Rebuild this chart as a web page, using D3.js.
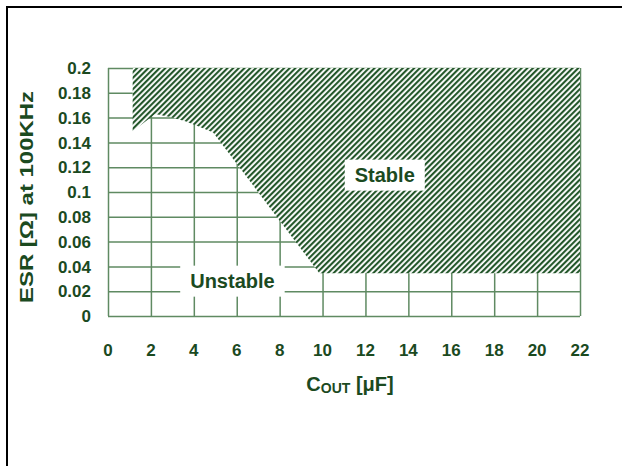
<!DOCTYPE html>
<html>
<head>
<meta charset="utf-8">
<script src="https://cdn.jsdelivr.net/npm/d3@7"></script>
<style>
  html, body { margin: 0; padding: 0; background: #fff; }
  svg { display: block; font-family: "Liberation Sans", Arial, sans-serif; }
</style>
</head>
<body>
<svg id="chart" width="622" height="466"></svg>
<script>
// ---- data ----
const xTickValues = [0, 2, 4, 6, 8, 10, 12, 14, 16, 18, 20, 22];
const xTickLabels = ["0", "2", "4", "6", "8", "10", "12", "14", "16", "18", "20", "22"];
const yTickValues = [0, 0.02, 0.04, 0.06, 0.08, 0.1, 0.12, 0.14, 0.16, 0.18, 0.2];
const yTickLabels = ["0", "0.02", "0.04", "0.06", "0.08", "0.1", "0.12", "0.14", "0.16", "0.18", "0.2"];
// boundary of the "Stable" region (Cout in µF, ESR in Ω)
const stableCout = [1.15, 1.15, 2.2, 2.9, 3.6, 4.2, 4.9, 9.85, 22, 22];
const stableEsr  = [0.2, 0.149, 0.163, 0.1605, 0.157, 0.153, 0.148, 0.0345, 0.0345, 0.2];
const regionLabels = ["Stable", "Unstable"];
const regionLabelCout = [12.9, 5.8];
const regionLabelEsr  = [0.114, 0.0285];
const yTitle = "ESR [Ω] at 100KHz";

// ---- setup ----
const svg = d3.select("#chart");
const textColor = "#1b4a1f";
const gridColor = "#5f8a62";
const hatchColor = "#24572b";

const x = d3.scaleLinear().domain([0, 22]).range([108, 580]);
const y = d3.scaleLinear().domain([0, 0.2]).range([316, 68]);

// frame lines
svg.append("line").attr("x1", 6).attr("x2", 622).attr("y1", 7).attr("y2", 7)
  .attr("stroke", "#000").attr("stroke-width", 2);
svg.append("line").attr("x1", 7).attr("x2", 7).attr("y1", 6).attr("y2", 466)
  .attr("stroke", "#000").attr("stroke-width", 2);

// hatch pattern
const defs = svg.append("defs");
const pat = defs.append("pattern").attr("id", "hatch")
  .attr("patternUnits", "userSpaceOnUse").attr("width", 4).attr("height", 4)
  .attr("patternTransform", "rotate(45)");
pat.append("rect").attr("width", 4).attr("height", 4).attr("fill", "#fff");
pat.append("rect").attr("x", 0).attr("y", 0).attr("width", 2.1).attr("height", 4).attr("fill", hatchColor);

// grid
const gGrid = svg.append("g");
gGrid.append("g").attr("transform", `translate(0,${y(0)})`)
  .call(d3.axisBottom(x).tickValues(xTickValues).tickSize(-(y(0) - y(0.2))).tickFormat(""))
  .call(g => g.select(".domain").remove())
  .call(g => g.selectAll("line").attr("stroke", gridColor).attr("stroke-width", 1.5));
gGrid.append("g").attr("transform", `translate(${x(0)},0)`)
  .call(d3.axisLeft(y).tickValues(yTickValues).tickSize(-(x(22) - x(0))).tickFormat(""))
  .call(g => g.select(".domain").remove())
  .call(g => g.selectAll("line").attr("stroke", gridColor).attr("stroke-width", 1.5));

// stable region
const pts = stableCout.map((c, i) => [x(c), y(stableEsr[i])]);
svg.append("path")
  .attr("d", d3.line()(pts) + "Z")
  .attr("fill", "url(#hatch)")
  .attr("stroke", "none");

// region labels with white boxes
regionLabels.forEach((t, i) => {
  const g = svg.append("g").attr("transform", `translate(${x(regionLabelCout[i])},${y(regionLabelEsr[i])})`);
  const txt = g.append("text").text(t)
    .attr("text-anchor", "middle").attr("dy", "0.36em")
    .attr("font-size", 20).attr("font-weight", "bold").attr("fill", textColor);
  const bb = txt.node().getBBox();
  g.insert("rect", "text")
    .attr("x", bb.x - 10).attr("y", -15)
    .attr("width", bb.width + 20).attr("height", 31)
    .attr("fill", "#fff");
});

// tick labels
svg.append("g").selectAll("text").data(xTickValues).join("text")
  .attr("x", d => x(d)).attr("y", 356)
  .attr("text-anchor", "middle")
  .attr("font-size", 17).attr("font-weight", "bold").attr("fill", textColor)
  .text((d, i) => xTickLabels[i]);
svg.append("g").selectAll("text").data(yTickValues).join("text")
  .attr("x", 91).attr("y", d => y(d)).attr("dy", "0.36em")
  .attr("text-anchor", "end")
  .attr("font-size", 17).attr("font-weight", "bold").attr("fill", textColor)
  .text((d, i) => yTickLabels[i]);

// axis titles
const xt = svg.append("text").attr("x", 350).attr("y", 391)
  .attr("text-anchor", "middle").attr("font-size", 20).attr("font-weight", "bold").attr("fill", textColor);
xt.append("tspan").text("C");
xt.append("tspan").text("OUT").attr("font-size", 14).attr("dy", 2);
xt.append("tspan").text(" [μF]").attr("dy", -2);

svg.append("text")
  .attr("transform", `translate(33,${(y(0.2) + y(0)) / 2 + 5}) rotate(-90)`)
  .attr("text-anchor", "middle")
  .attr("font-size", 18).attr("font-weight", "bold").attr("fill", textColor)
  .attr("textLength", 212).attr("lengthAdjust", "spacingAndGlyphs")
  .text(yTitle);
</script>
</body>
</html>
